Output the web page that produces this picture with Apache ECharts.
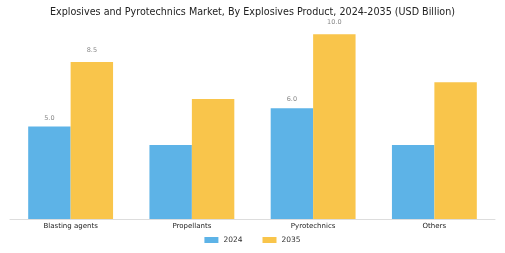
<!DOCTYPE html>
<html>
<head>
<meta charset="utf-8">
<script src="https://cdn.jsdelivr.net/npm/echarts@6/dist/echarts.min.js"></script>
<style>
  html, body { margin: 0; padding: 0; background: #fff; }
  #main { width: 505px; height: 253px; }
</style>
</head>
<body>
<div id="main"></div>
<script>
const categories = ["Blasting agents", "Propellants", "Pyrotechnics", "Others"];
const values2024 = [5.0, 4.0, 6.0, 4.0];
const values2035 = [8.5, 6.5, 10.0, 7.4];
// only these categories carry value labels in the original
const labelled = ["Blasting agents", "Pyrotechnics"];

const chart = echarts.init(document.getElementById("main"));

const withLabels = (vals) =>
  vals.map((v, i) => ({
    value: v,
    label: { show: labelled.includes(categories[i]) },
  }));

const option = {
  animation: false,
  textStyle: { fontFamily: "DejaVu Sans" },
  title: {
    text: "Explosives and Pyrotechnics Market, By Explosives Product, 2024-2035 (USD Billion)",
    left: "center",
    top: 2,
    textStyle: { fontSize: 9.6, fontWeight: "normal", color: "#222" },
  },
  grid: { left: 10, right: 10, top: 25, bottom: 34 },
  legend: {
    bottom: 4,
    left: "center",
    itemWidth: 14,
    itemHeight: 6,
    itemGap: 20,
    icon: "rect",
    textStyle: { fontSize: 7.5, color: "#333" },
    data: ["2024", "2035"],
  },
  xAxis: {
    type: "category",
    data: categories,
    axisLine: { lineStyle: { color: "#ddd" } },
    axisTick: { show: false },
    axisLabel: { fontSize: 7, color: "#222", margin: 4 },
  },
  yAxis: {
    type: "value",
    min: 0,
    max: 10.5,
    show: false,
    splitLine: { show: false },
  },
  series: [
    {
      name: "2024",
      type: "bar",
      data: withLabels(values2024),
      itemStyle: { color: "#5DB3E7" },
      barGap: "0%",
      barCategoryGap: "30%",
      label: {
        position: "top",
        distance: 5,
        fontSize: 6.5,
        color: "#888",
        formatter: (p) => p.value.toFixed(1),
      },
    },
    {
      name: "2035",
      type: "bar",
      data: withLabels(values2035),
      itemStyle: { color: "#F9C54B" },
      barGap: "0%",
      barCategoryGap: "30%",
      label: {
        position: "top",
        distance: 8,
        fontSize: 6.5,
        color: "#888",
        formatter: (p) => p.value.toFixed(1),
      },
    },
  ],
};

chart.setOption(option);
</script>
</body>
</html>
